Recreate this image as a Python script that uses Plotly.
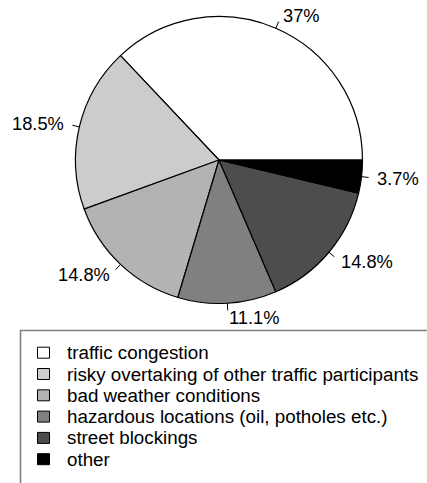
import math
import plotly.graph_objects as go

categories = [
    "traffic congestion",
    "risky overtaking of other traffic participants",
    "bad weather conditions",
    "hazardous locations (oil, potholes etc.)",
    "street blockings",
    "other",
]
values = [37, 18.5, 14.8, 11.1, 14.8, 3.7]
colors = ["#FFFFFF", "#CCCCCC", "#B3B3B3", "#808080", "#4D4D4D", "#000000"]

W, H = 427, 483
CX, CY, R = 219.0, 160.0, 143.5
FONT = "Liberation Sans, Arial, Helvetica, sans-serif"
FS_LABEL = 18.3
FS_LEGEND = 18.8


def px(x):
    return x / W


def py(y):
    return 1 - y / H


total = sum(values)
# plotly's counterclockwise pies end the first slice at `rotation`;
# shift so the first slice starts at 3 o'clock
rotation = 90 - 360 * values[0] / total

fig = go.Figure()
fig.add_trace(go.Pie(
    labels=categories,
    values=values,
    marker=dict(colors=colors, line=dict(color="#000000", width=1.2)),
    sort=False,
    direction="counterclockwise",
    rotation=rotation,
    textinfo="none",
    hoverinfo="skip",
    showlegend=False,
    domain=dict(x=[px(CX - R), px(CX + R)], y=[py(CY + R), py(CY - R)]),
))

shapes = []
annotations = []
cum = 0.0
for v in values:
    mid = 2 * math.pi * (cum + v / 2) / total
    cum += v
    c, s = math.cos(mid), math.sin(mid)
    shapes.append(dict(type="line", xref="paper", yref="paper",
                       x0=px(CX + R * c), y0=py(CY - R * s),
                       x1=px(CX + 1.05 * R * c), y1=py(CY - 1.05 * R * s),
                       line=dict(color="#000000", width=1)))
    annotations.append(dict(xref="paper", yref="paper",
                            x=px(CX + 1.1 * R * c), y=py(CY - 1.1 * R * s),
                            text=f"{v:g}%", showarrow=False,
                            xanchor="right" if c < 0 else "left",
                            yanchor="middle", borderpad=0,
                            font=dict(family=FONT, size=FS_LABEL, color="#000000")))

# legend box
LX0, LY0 = 20.5, 330.5
shapes.append(dict(type="rect", xref="paper", yref="paper",
                   x0=px(LX0), y0=py(LY0), x1=px(W + 20), y1=py(H + 20),
                   line=dict(color="#7F7F7F", width=1.6), fillcolor="rgba(0,0,0,0)"))
ROW0, ROWSTEP = 352.7, 21.3
for i, (cat, col) in enumerate(zip(categories, colors)):
    yc = ROW0 + i * ROWSTEP
    shapes.append(dict(type="rect", xref="paper", yref="paper",
                       x0=px(37.5), x1=px(49.5), y0=py(yc + 5.5), y1=py(yc - 5.5),
                       line=dict(color="#000000", width=1), fillcolor=col))
    annotations.append(dict(xref="paper", yref="paper", x=px(66), y=py(yc),
                            text=cat, showarrow=False, xanchor="left",
                            yanchor="middle", borderpad=0,
                            font=dict(family=FONT, size=FS_LEGEND, color="#000000")))

fig.update_layout(
    width=W, height=H,
    margin=dict(l=0, r=0, t=0, b=0),
    paper_bgcolor="#FFFFFF",
    plot_bgcolor="#FFFFFF",
    shapes=shapes,
    annotations=annotations,
    showlegend=False,
)

fig.write_html(
    "out.html",
    config={"displayModeBar": False},
    post_script="document.body.style.margin='0';document.body.style.overflow='hidden';",
)
